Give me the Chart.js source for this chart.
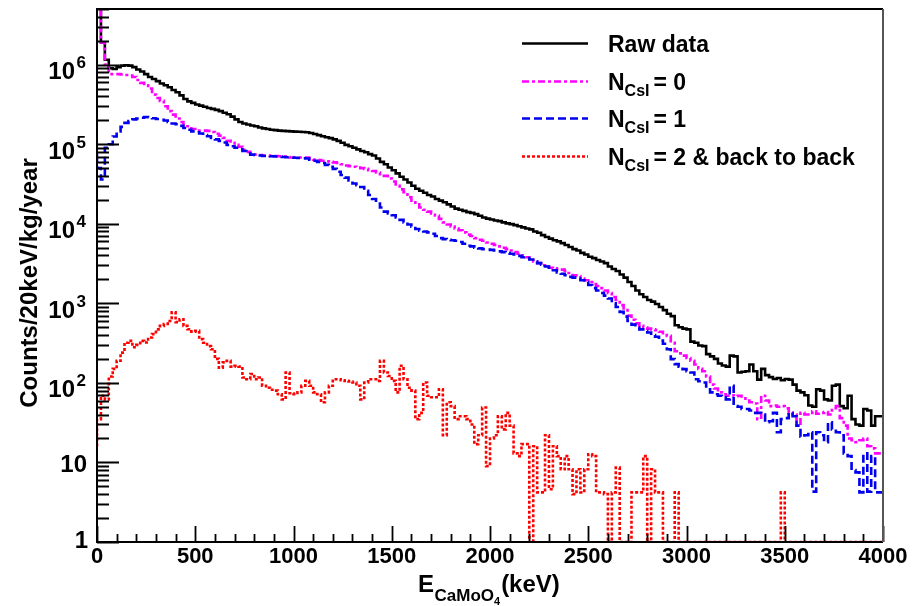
<!DOCTYPE html>
<html>
<head>
<meta charset="utf-8">
<script src="https://cdn.jsdelivr.net/npm/chart.js@4.4.1/dist/chart.umd.min.js"></script>
<style>
  html, body { margin: 0; padding: 0; background: #ffffff; }
  #wrap { width: 914px; height: 606px; position: relative; }
  canvas { display: block; }
</style>
</head>
<body>
<div id="wrap"><canvas id="c" width="914" height="606"></canvas></div>
<script>
// ---------------- DATA ----------------
const BIN_WIDTH = 20; // keV per bin
const N_BINS = 200;
const ENERGY = Array.from({ length: N_BINS }, (_, i) => i * BIN_WIDTH); // bin lower edges (keV)

const X_TICKS = [0, 500, 1000, 1500, 2000, 2500, 3000, 3500, 4000];
const Y_TICKS = [1, 10, 100, 1000, 10000, 100000, 1000000];
// tick label = mantissa text + optional exponent (superscript)
const Y_TICK_BASE = ['1', '10', '10', '10', '10', '10', '10'];
const Y_TICK_EXP  = ['',  '',   '2',  '3',  '4',  '5',  '6'];

const SERIES_NAMES = ['Raw data', 'N_CsI = 0', 'N_CsI = 1', 'N_CsI = 2 & back to back'];

// Raw data (counts / 20 keV / kg / year)
const rawData = [
  7.0e6, 5.5e6, 1.9e6, 1.15e6, 9.0e5, 8.8e5, 9.3e5, 9.7e5, 9.8e5, 9.7e5,
  9.3e5, 8.7e5, 8.2e5, 7.6e5, 7.0e5, 6.6e5, 6.2e5, 5.8e5, 5.5e5, 5.2e5,
  4.8e5, 4.5e5, 4.1e5, 3.7e5, 3.45e5, 3.3e5, 3.15e5, 3.05e5, 2.95e5, 2.85e5,
  2.78e5, 2.7e5, 2.6e5, 2.48e5, 2.38e5, 2.22e5, 2.05e5, 1.9e5, 1.82e5, 1.77e5,
  1.72e5, 1.68e5, 1.62e5, 1.58e5, 1.55e5, 1.52e5, 1.5e5, 1.48e5, 1.47e5, 1.46e5,
  1.45e5, 1.44e5, 1.43e5, 1.42e5, 1.41e5, 1.38e5, 1.34e5, 1.3e5, 1.26e5, 1.22e5,
  1.19e5, 1.15e5, 1.1e5, 1.04e5, 9.8e4, 9.4e4, 9.0e4, 8.6e4, 8.2e4, 7.9e4,
  7.5e4, 7.2e4, 6.6e4, 6.0e4, 5.6e4, 5.1e4, 4.7e4, 4.3e4, 3.9e4, 3.6e4,
  3.3e4, 3.0e4, 2.75e4, 2.6e4, 2.45e4, 2.3e4, 2.2e4, 2.05e4, 1.95e4, 1.86e4,
  1.75e4, 1.65e4, 1.55e4, 1.5e4, 1.45e4, 1.4e4, 1.37e4, 1.32e4, 1.26e4, 1.2e4,
  1.16e4, 1.13e4, 1.1e4, 1.08e4, 1.04e4, 1.01e4, 9.9e3, 9.6e3, 9.3e3, 9.0e3,
  8.7e3, 8.5e3, 8.0e3, 7.7e3, 7.2e3, 6.8e3, 6.5e3, 6.2e3, 6.0e3, 5.7e3,
  5.4e3, 5.1e3, 4.8e3, 4.6e3, 4.3e3, 4.1e3, 3.85e3, 3.7e3, 3.5e3, 3.35e3,
  3.2e3, 2.9e3, 2.7e3, 2.55e3, 2.3e3, 2.1e3, 1.85e3, 1.65e3, 1.45e3, 1.3e3,
  1.2e3, 1.1e3, 1.05e3, 980, 900, 820, 740, 690, 530, 500,
  480, 470, 330, 320, 295, 290, 230, 215, 200, 175,
  165, 160, 220, 215, 135, 138, 140, 170, 140, 110,
  150, 125, 118, 112, 115, 108, 112, 110, 95, 80,
  76, 70, 52, 50, 83, 80, 62, 60, 92, 95,
  51, 48, 69, 35, 30, 29, 47, 45, 29, 38
];

// N_CsI = 0
const ncsi0 = [
  7.0e6, 5.5e6, 1.9e6, 1.0e6, 7.6e5, 7.6e5, 7.6e5, 7.5e5, 7.4e5, 7.3e5,
  7.0e5, 6.4e5, 5.9e5, 5.5e5, 5.0e5, 4.2e5, 3.8e5, 3.5e5, 3.0e5, 2.6e5,
  2.35e5, 2.1e5, 1.9e5, 1.75e5, 1.68e5, 1.55e5, 1.48e5, 1.48e5, 1.48e5, 1.47e5,
  1.42e5, 1.35e5, 1.28e5, 1.2e5, 1.1e5, 1.04e5, 9.8e4, 9.3e4, 8.5e4, 8.0e4,
  7.6e4, 7.4e4, 7.3e4, 7.2e4, 7.2e4, 7.1e4, 7.1e4, 7.05e4, 7.0e4, 6.9e4,
  6.8e4, 6.8e4, 6.8e4, 6.8e4, 6.8e4, 6.6e4, 6.4e4, 6.3e4, 6.2e4, 6.1e4,
  6.0e4, 5.9e4, 5.8e4, 5.6e4, 5.4e4, 5.3e4, 5.2e4, 5.1e4, 5.0e4, 4.9e4,
  4.7e4, 4.6e4, 4.4e4, 4.2e4, 4.0e4, 3.7e4, 3.4e4, 3.0e4, 2.7e4, 2.5e4,
  2.15e4, 1.95e4, 1.75e4, 1.6e4, 1.5e4, 1.42e4, 1.35e4, 1.27e4, 1.15e4, 1.04e4,
  9.8e3, 9.2e3, 8.7e3, 8.3e3, 7.8e3, 7.3e3, 7.0e3, 6.6e3, 6.3e3, 6.1e3,
  5.8e3, 5.6e3, 5.4e3, 5.2e3, 5.0e3, 4.8e3, 4.6e3, 4.4e3, 4.2e3, 4.0e3,
  3.8e3, 3.6e3, 3.35e3, 3.2e3, 3.0e3, 2.9e3, 2.8e3, 2.75e3, 2.7e3, 2.65e3,
  2.55e3, 2.4e3, 2.25e3, 2.2e3, 2.05e3, 1.95e3, 1.85e3, 1.75e3, 1.65e3, 1.55e3,
  1.45e3, 1.35e3, 1.2e3, 1.1e3, 950, 820, 700, 620, 560, 520,
  500, 480, 470, 460, 440, 400, 390, 320, 250, 235,
  220, 205, 190, 170, 150, 140, 120, 95, 85, 76,
  72, 69, 70, 68, 69, 64, 60, 57, 55, 35,
  69, 60, 51, 52, 50, 51, 48, 42, 40, 29,
  42, 40, 42, 44, 41, 42, 43, 40, 48, 51,
  36, 29, 20, 19, 18, 19, 20, 16, 15, 13
];

// N_CsI = 1
const ncsi1 = [
  7.5e4, 5.0e4, 3.6e4, 9.0e4, 1.0e5, 1.25e5, 1.45e5, 1.65e5, 1.85e5, 1.95e5,
  2.05e5, 2.1e5, 2.15e5, 2.2e5, 2.18e5, 2.12e5, 2.07e5, 2.03e5, 1.98e5, 1.9e5,
  1.82e5, 1.78e5, 1.7e5, 1.6e5, 1.52e5, 1.45e5, 1.41e5, 1.36e5, 1.3e5, 1.26e5,
  1.2e5, 1.15e5, 1.1e5, 1.05e5, 9.8e4, 9.4e4, 9.0e4, 8.7e4, 8.2e4, 7.7e4,
  7.4e4, 7.3e4, 7.2e4, 7.1e4, 7.1e4, 7.05e4, 7.0e4, 7.0e4, 6.9e4, 6.85e4,
  6.8e4, 6.75e4, 6.7e4, 6.65e4, 6.6e4, 6.4e4, 6.2e4, 6.0e4, 5.8e4, 5.5e4,
  5.2e4, 4.9e4, 4.5e4, 4.1e4, 3.8e4, 3.5e4, 3.2e4, 3.05e4, 2.9e4, 2.6e4,
  2.3e4, 2.05e4, 1.8e4, 1.6e4, 1.42e4, 1.35e4, 1.28e4, 1.2e4, 1.12e4, 1.04e4,
  9.8e3, 9.2e3, 8.6e3, 8.2e3, 8.0e3, 7.8e3, 7.5e3, 7.0e3, 6.6e3, 6.4e3,
  6.3e3, 6.2e3, 6.1e3, 5.9e3, 5.6e3, 5.3e3, 5.2e3, 5.0e3, 4.9e3, 4.8e3,
  4.75e3, 4.7e3, 4.6e3, 4.5e3, 4.4e3, 4.3e3, 4.2e3, 4.1e3, 3.95e3, 3.8e3,
  3.7e3, 3.55e3, 3.35e3, 3.2e3, 3.05e3, 2.9e3, 2.8e3, 2.6e3, 2.45e3, 2.35e3,
  2.25e3, 2.15e3, 2.1e3, 2.05e3, 1.95e3, 1.85e3, 1.7e3, 1.55e3, 1.45e3, 1.35e3,
  1.25e3, 1.15e3, 1.0e3, 900, 780, 680, 600, 540, 500, 470,
  450, 430, 400, 380, 340, 310, 265, 199, 172, 160,
  149, 140, 135, 111, 105, 101, 90, 76, 72, 69,
  66, 62, 92, 51, 50, 47, 47, 45, 42, 42,
  40, 32, 33, 42, 24, 35, 36, 42, 38, 29,
  21, 22, 24, 4.3, 24, 22, 18, 32, 26, 24,
  22, 13, 12, 8, 7.5, 4.2, 13, 4.3, 12, 4.2
];

// N_CsI = 2 & back to back  (empty bins drawn at the axis floor, 1)
const ncsi2b2b = [
  16, 35, 69, 62, 120, 150, 190, 240, 320, 337,
  280, 300, 337, 322, 372, 410, 470, 520, 550, 600,
  770, 580, 630, 520, 473, 440, 450, 355, 320, 290,
  265, 200, 155, 181, 189, 160, 164, 160, 117, 111,
  129, 111, 117, 92, 87, 82, 80, 72, 62, 135,
  74, 72, 76, 92, 106, 92, 76, 72, 57, 76,
  92, 111, 111, 108, 106, 104, 101, 92, 62, 101,
  111, 111, 106, 189, 135, 122, 106, 76, 164, 111,
  87, 80, 35, 42, 101, 69, 66, 66, 83, 22,
  57, 51, 35, 38, 38, 35, 30, 17, 22, 49,
  9, 20, 22, 38, 26, 42, 29, 13, 12, 17,
  17, 1, 16, 4.2, 4.2, 22, 4.6, 16, 12, 8.2,
  12, 8.2, 4, 8.2, 4.2, 8.2, 12.7, 12, 4.2, 4.2,
  4, 1, 4.2, 8.6, 1, 1, 1, 4.2, 4.2, 4.2,
  12, 1, 8.2, 4.2, 4.2, 1, 1, 1, 4.2, 1,
  1, 1, 1, 1, 1, 1, 1, 1, 1, 1,
  1, 1, 1, 1, 1, 1, 1, 1, 1, 1,
  1, 1, 1, 1, 1, 4.2, 1, 1, 1, 1,
  1, 1, 1, 1, 1, 1, 1, 1, 1, 1,
  1, 1, 1, 1, 1, 1, 1, 1, 1, 1
];

// ---------------- HELPERS ----------------
function histPoints(values) {
  const pts = values.map((v, i) => ({ x: ENERGY[i], y: v }));
  pts.push({ x: ENERGY[values.length - 1] + BIN_WIDTH, y: values[values.length - 1] });
  return pts;
}

const FONT_FAMILY = "'Liberation Sans', Arial, Helvetica, sans-serif";

const STYLES = [
  { color: '#000000', width: 2.6, dash: [] },
  { color: '#ff00ff', width: 2.6, dash: [7, 3, 3, 3] },
  { color: '#0000ee', width: 2.6, dash: [8, 4] },
  { color: '#ff0000', width: 2.6, dash: [3, 2] }
];

const seriesValues = [rawData, ncsi0, ncsi1, ncsi2b2b];
const datasets = seriesValues.map((vals, k) => ({
  label: SERIES_NAMES[k],
  data: histPoints(vals),
  borderColor: STYLES[k].color,
  borderWidth: STYLES[k].width,
  borderDash: STYLES[k].dash,
  backgroundColor: 'transparent',
  fill: false,
  stepped: 'after',
  pointRadius: 0,
  tension: 0,
  order: 3 - k
}));

// ---------------- PLUGINS ----------------
const frameAndTicks = {
  id: 'frameAndTicks',
  afterDatasetsDraw(chart) {
    const { ctx, chartArea: a, scales } = chart;
    const xs = scales.x, ys = scales.y;
    ctx.save();
    ctx.strokeStyle = '#000';
    ctx.lineWidth = 1.8;
    ctx.setLineDash([]);
    ctx.beginPath();
    for (let v = xs.min; v <= xs.max; v += 100) {
      const px = Math.round(xs.getPixelForValue(v)) + 0.5;
      const len = v % 500 === 0 ? 16 : 8;
      ctx.moveTo(px, a.bottom);
      ctx.lineTo(px, a.bottom - len);
    }
    for (let d = 0; d <= 6; d++) {
      for (let k = 1; k <= 9; k++) {
        const v = k * Math.pow(10, d);
        if (v > ys.max) break;
        const py = Math.round(ys.getPixelForValue(v)) + 0.5;
        const len = k === 1 ? 22 : 12;
        ctx.moveTo(a.left, py);
        ctx.lineTo(a.left + len, py);
      }
    }
    ctx.stroke();
    // frame
    ctx.lineWidth = 2;
    ctx.strokeStyle = '#000';
    ctx.beginPath();
    ctx.moveTo(a.right, a.top);
    ctx.lineTo(a.left, a.top);
    ctx.lineTo(a.left, a.bottom);
    ctx.lineTo(a.right, a.bottom);
    ctx.stroke();
    ctx.strokeStyle = '#555';
    ctx.beginPath();
    ctx.moveTo(a.right, a.top);
    ctx.lineTo(a.right, a.bottom);
    ctx.stroke();
    ctx.restore();
  }
};

const textDecor = {
  id: 'textDecor',
  afterDraw(chart) {
    const { ctx, chartArea: a, scales } = chart;
    const ys = scales.y;
    ctx.save();
    ctx.fillStyle = '#000';
    ctx.textBaseline = 'alphabetic';

    // Y tick labels: 1, 10, 10^2 ... 10^6 (ROOT style with superscript exponent)
    Y_TICKS.forEach((v, i) => {
      const py = ys.getPixelForValue(v);
      ctx.textAlign = 'right';
      if (Y_TICK_EXP[i]) {
        ctx.font = 'bold 24px ' + FONT_FAMILY;
        ctx.fillText(Y_TICK_BASE[i], 75, py + 14.5);
        ctx.font = 'bold 17px ' + FONT_FAMILY;
        ctx.fillText(Y_TICK_EXP[i], 86, py + 3.5);
      } else if (Y_TICK_BASE[i] === '10') {
        ctx.font = 'bold 24px ' + FONT_FAMILY;
        ctx.fillText(Y_TICK_BASE[i], 87, py + 10);
      } else {
        ctx.font = 'bold 24px ' + FONT_FAMILY;
        ctx.fillText(Y_TICK_BASE[i], 88, py + 6);
      }
    });
    ctx.textAlign = 'left';

    // Y axis title (rotated)
    ctx.save();
    ctx.translate(37, 283);
    ctx.rotate(-Math.PI / 2);
    ctx.font = 'bold 24px ' + FONT_FAMILY;
    ctx.textAlign = 'center';
    ctx.fillText('Counts/20keV/kg/year', 0, 0);
    ctx.restore();

    // X axis title: E_{CaMoO_4}(keV)
    let x = 418;
    const base = 592;
    ctx.font = 'bold 24px ' + FONT_FAMILY;
    ctx.fillText('E', x, base);
    x += ctx.measureText('E').width + 0.5;
    ctx.font = 'bold 17px ' + FONT_FAMILY;
    ctx.fillText('CaMoO', x, base + 9);
    x += ctx.measureText('CaMoO').width;
    ctx.font = 'bold 11px ' + FONT_FAMILY;
    ctx.fillText('4', x, base + 13);
    x += ctx.measureText('4').width + 1;
    ctx.font = 'bold 24px ' + FONT_FAMILY;
    ctx.fillText('(keV)', x, base);

    // Legend
    const rowsY = [43.5, 81.5, 118.5, 156.5];
    const sampleX0 = 522, sampleX1 = 588, textX = 608;
    datasets.forEach((ds, i) => {
      const y = rowsY[i];
      ctx.save();
      ctx.strokeStyle = ds.borderColor;
      ctx.lineWidth = ds.borderWidth;
      ctx.setLineDash(ds.borderDash);
      ctx.beginPath();
      ctx.moveTo(sampleX0, y);
      ctx.lineTo(sampleX1, y);
      ctx.stroke();
      ctx.restore();
      const tb = y + 8.5;
      if (i === 0) {
        ctx.font = 'bold 23px ' + FONT_FAMILY;
        ctx.fillText('Raw data', textX, tb);
      } else {
        let tx = textX;
        ctx.font = 'bold 23px ' + FONT_FAMILY;
        ctx.fillText('N', tx, tb);
        tx += ctx.measureText('N').width;
        ctx.font = 'bold 16px ' + FONT_FAMILY;
        ctx.fillText('CsI', tx, tb + 6);
        tx += ctx.measureText('CsI').width + 4;
        ctx.font = 'bold 23px ' + FONT_FAMILY;
        const rest = SERIES_NAMES[i].split('N_CsI ')[1];
        ctx.fillText(rest, tx, tb);
      }
    });
    ctx.restore();
  }
};

// ---------------- CHART ----------------
const tickFont = { family: FONT_FAMILY, size: 22, weight: 'bold' };

new Chart(document.getElementById('c'), {
  type: 'line',
  data: { datasets },
  options: {
    responsive: false,
    animation: false,
    devicePixelRatio: 1,
    layout: { padding: { top: 9, right: 31, left: 0, bottom: 0 } },
    plugins: { legend: { display: false }, tooltip: { enabled: false }, title: { display: false } },
    scales: {
      x: {
        type: 'linear',
        min: 0,
        max: 4000,
        afterBuildTicks: (s) => { s.ticks = X_TICKS.map(v => ({ value: v })); },
        ticks: { font: tickFont, color: '#000', padding: 2, maxRotation: 0, autoSkip: false,
                 callback: (v) => String(v) },
        grid: { display: false, drawTicks: false },
        border: { display: false },
        afterFit: (s) => { s.height = 64; }
      },
      y: {
        type: 'logarithmic',
        min: 1,
        max: 5e6,
        afterBuildTicks: (s) => { s.ticks = Y_TICKS.map(v => ({ value: v })); },
        ticks: { display: false },
        grid: { display: false, drawTicks: false },
        border: { display: false },
        afterFit: (s) => { s.width = 97; }
      }
    }
  },
  plugins: [frameAndTicks, textDecor]
});
</script>
</body>
</html>
